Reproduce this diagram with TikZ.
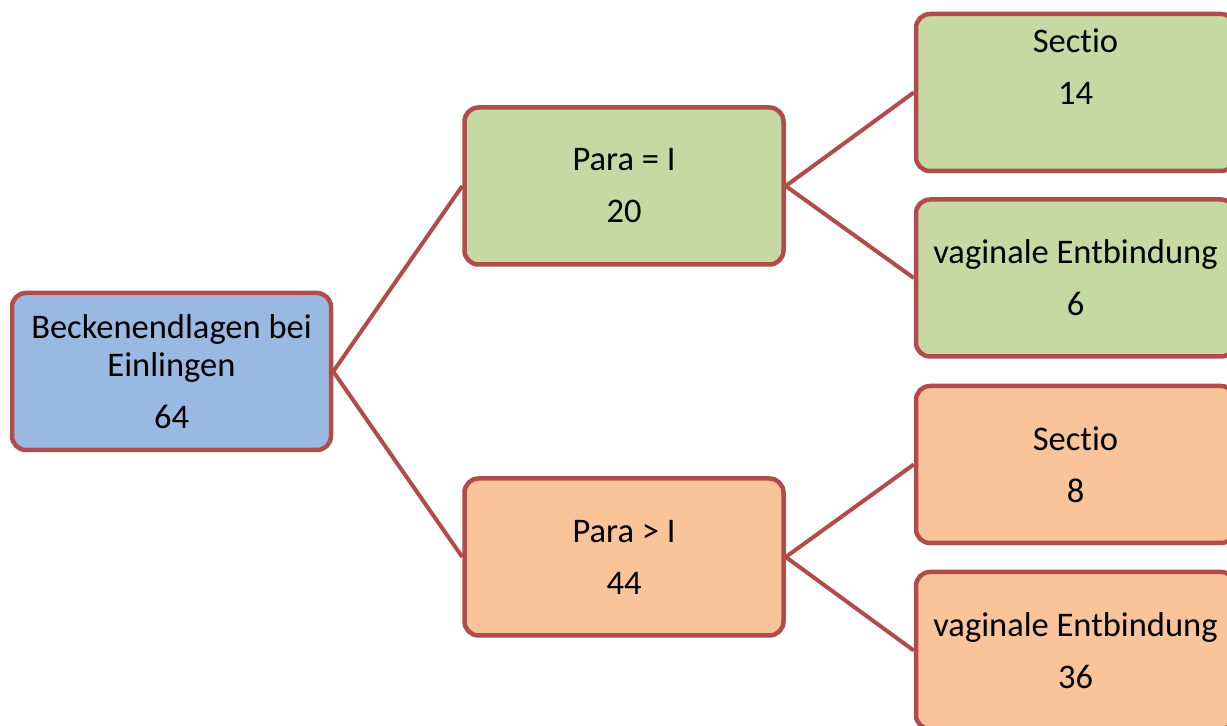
\documentclass[tikz,border=0pt]{standalone}
\usepackage{fontspec}
\setmainfont[Ligatures=NoCommon]{Carlito}
\definecolor{edgered}{HTML}{B24C4A}
\definecolor{boxblue}{HTML}{99B9E3}
\definecolor{boxgreen}{HTML}{C6D9A3}
\definecolor{boxorange}{HTML}{F9C49A}
\begin{document}
\begin{tikzpicture}[x=1pt,y=1pt,
  box/.style={draw=edgered, line width=4.5pt, rounded corners=14pt, minimum width=319pt, minimum height=157pt,
    align=center, inner sep=0pt, font=\fontsize{34.5}{38}\selectfont},
  link/.style={draw=edgered, line width=4pt}]
\clip (0,0) rectangle (1227,726);
\fill[white] (0,0) rectangle (1227,726);
\node[box, fill=boxblue] (root) at (171.5,354.5) {Beckenendlagen bei\\Einlingen\\[14pt]64};
\node[box, fill=boxgreen] (p1) at (624,540) {Para = I\\[14pt]20};
\node[box, fill=boxorange] (p2) at (624,169) {Para > I\\[14pt]44};
\node[box, fill=boxgreen] (s1) at (1075.5,633.5) {Sectio\\[14pt]14\\[14pt]\mbox{}};
\node[box, fill=boxgreen] (v1) at (1075.5,448) {vaginale Entbindung\\[14pt]6};
\node[box, fill=boxorange] (s2) at (1075.5,261.5) {Sectio\\[14pt]8};
\node[box, fill=boxorange] (v2) at (1075.5,75.5) {vaginale Entbindung\\[14pt]36};
\draw[link] (root.east) -- (p1.west);
\draw[link] (root.east) -- (p2.west);
\draw[link] (p1.east) -- (s1.west);
\draw[link] (p1.east) -- (v1.west);
\draw[link] (p2.east) -- (s2.west);
\draw[link] (p2.east) -- (v2.west);
\end{tikzpicture}
\end{document}
